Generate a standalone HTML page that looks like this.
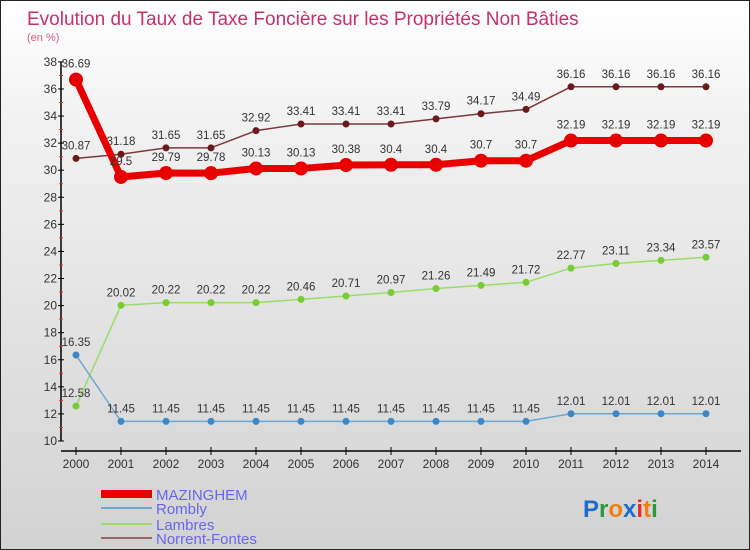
<!DOCTYPE html>
<html><head><meta charset="utf-8">
<style>
body{margin:0;width:750px;height:550px;overflow:hidden;font-family:"Liberation Sans",sans-serif}
#c{position:relative;width:748px;height:548px;border:1px solid #222;background:linear-gradient(#ffffff,#f0f0f0 25%,#d2d2d2)}
</style></head><body>
<div id="c">
<svg id="s" width="748" height="548" style="position:absolute;left:0;top:0">
<text x="26" y="24" font-size="19" fill="#c8306a">Evolution du Taux de Taxe Foncière sur les Propriétés Non Bâties</text>
<text x="26" y="40" font-size="11" fill="#d06080">(en %)</text>
<g id="axes"></g>
<g id="series"></g>
<g>
<rect x="100" y="489" width="51" height="8" fill="#e80000"/>
<text x="155" y="499" font-size="15" fill="#6666ee">MAZINGHEM</text>
<line x1="100" y1="507" x2="151" y2="507" stroke="#6fa8d0" stroke-width="2"/>
<text x="155" y="513" font-size="15" fill="#6666ee">Rombly</text>
<line x1="100" y1="523" x2="151" y2="523" stroke="#99dd66" stroke-width="2"/>
<text x="155" y="529" font-size="15" fill="#6666ee">Lambres</text>
<line x1="100" y1="537" x2="151" y2="537" stroke="#996666" stroke-width="2"/>
<text x="155" y="543" font-size="15" fill="#6666ee">Norrent-Fontes</text>
</g>
<g font-size="24" font-weight="bold">
<text x="582" y="516"><tspan fill="#1e6ec8">P</tspan><tspan fill="#2a9a3a">r</tspan><tspan fill="#f08010">o</tspan><tspan fill="#1e6ec8">x</tspan><tspan fill="#e03020">i</tspan><tspan fill="#f08010">t</tspan><tspan fill="#2a9a3a">i</tspan></text>
</g>
</svg>
</div>
<script>
const years=[2000,2001,2002,2003,2004,2005,2006,2007,2008,2009,2010,2011,2012,2013,2014];
const mazinghem=[36.69,29.5,29.79,29.78,30.13,30.13,30.38,30.4,30.4,30.7,30.7,32.19,32.19,32.19,32.19];
const rombly=[16.35,11.45,11.45,11.45,11.45,11.45,11.45,11.45,11.45,11.45,11.45,12.01,12.01,12.01,12.01];
const lambres=[12.58,20.02,20.22,20.22,20.22,20.46,20.71,20.97,21.26,21.49,21.72,22.77,23.11,23.34,23.57];
const norrent=[30.87,31.18,31.65,31.65,32.92,33.41,33.41,33.41,33.79,34.17,34.49,36.16,36.16,36.16,36.16];
const mazLabels=["36.69","29.5","29.79","29.78","30.13","30.13","30.38","30.4","30.4","30.7","30.7","32.19","32.19","32.19","32.19"];
const romLabels=["16.35","11.45","11.45","11.45","11.45","11.45","11.45","11.45","11.45","11.45","11.45","12.01","12.01","12.01","12.01"];
const lamLabels=["12.58","20.02","20.22","20.22","20.22","20.46","20.71","20.97","21.26","21.49","21.72","22.77","23.11","23.34","23.57"];
const norLabels=["30.87","31.18","31.65","31.65","32.92","33.41","33.41","33.41","33.79","34.17","34.49","36.16","36.16","36.16","36.16"];
const yTicks=[10,12,14,16,18,20,22,24,26,28,30,32,34,36,38];
const NS="http://www.w3.org/2000/svg";
const X=i=>75+i*45;
const Y=v=>440-(v-10)*13.54;
function mk(tag,attrs,parent,txt){const e=document.createElementNS(NS,tag);for(const k in attrs)e.setAttribute(k,attrs[k]);if(txt!==undefined)e.textContent=txt;parent.appendChild(e);return e;}
const ax=document.getElementById('axes');
let e=mk('line',{x1:60,y1:Y(38),x2:60,y2:440,stroke:'#000','stroke-width':1.5},ax);


e=mk('line',{x1:60,y1:450,x2:740,y2:450,stroke:'#000','stroke-width':1.5},ax);


yTicks.forEach(v=>{
 mk('line',{x1:57,y1:Y(v),x2:63,y2:Y(v),stroke:'#000'},ax);
 mk('line',{x1:58,y1:Y(v+1),x2:62,y2:Y(v+1),stroke:v<38?'#e03030':'none'},ax);
 const t=mk('text',{x:56,y:Y(v)+4,'font-size':12,fill:'#333','text-anchor':'end'},ax,String(v));
 
 
});
years.forEach((yr,i)=>{
 mk('line',{x1:X(i),y1:446,x2:X(i),y2:454,stroke:'#000'},ax);
 const t=mk('text',{x:X(i),y:467,'font-size':12,fill:'#333','text-anchor':'middle'},ax,String(yr));
 
 
});
const sg=document.getElementById('series');
function series(name,vals,labels,color,dot,w,r,lblDy){
 const g=mk('g',{},sg);
 
 
 const pl=mk('polyline',{points:vals.map((v,i)=>X(i)+','+Y(v)).join(' '),fill:'none',stroke:color,'stroke-width':w,'stroke-linejoin':'round'},g);
 
 
 vals.forEach((v,i)=>{
  const c=mk('circle',{cx:X(i),cy:Y(v),r:r,fill:dot},g);
  
  
  const t=mk('text',{x:X(i),y:Y(v)+lblDy,'font-size':11.5,fill:'#333','text-anchor':'middle'},g,labels[i]);
  
  
 });
}
series('norrent-fontes',norrent,norLabels,'#7a3a3a','#6a1a1a',1.5,3.5,-9);
series('lambres',lambres,lamLabels,'#99dd66','#77cc33',1.5,3.5,-9);
series('rombly',rombly,romLabels,'#6fa8d0','#3a88c8',1.5,3.5,-9);
series('mazinghem',mazinghem,mazLabels,'#e80000','#e80000',7,7,-12);
</script>
</body></html>
